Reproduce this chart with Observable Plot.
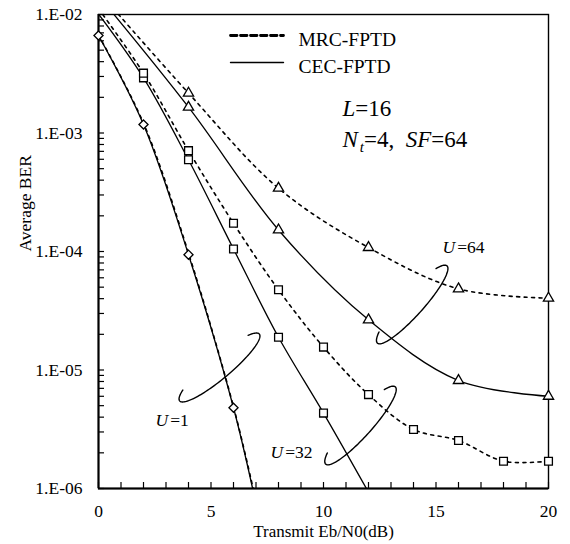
<!DOCTYPE html>
<html><head><meta charset="utf-8">
<script src="https://cdn.jsdelivr.net/npm/d3@7"></script>
<script src="https://cdn.jsdelivr.net/npm/@observablehq/plot@0.6"></script>
<style>
body{margin:0;background:#fff}
svg{font-family:"Liberation Serif","Times New Roman",serif}
</style>
</head><body><div id="chart"></div>
<script>
// ---------- data ----------
const snrU1 = [0, 2, 4, 6, 7];
const berU1CEC = [6.65e-3, 1.18e-3, 9.4e-5, 4.8e-6, 7.4e-7];
const berU1MRC = [6.7e-3, 1.21e-3, 9.7e-5, 4.9e-6, 7.8e-7];

const snrU32CEC = [0, 2, 4, 6, 8, 10, 12];
const berU32CEC = [1.01e-2, 2.92e-3, 5.94e-4, 1.05e-4, 1.89e-5, 4.33e-6, 9.3e-7];
const snrU32MRC = [0, 2, 4, 6, 8, 10, 12, 14, 16, 18, 20];
const berU32MRC = [1.12e-2, 3.2e-3, 7.1e-4, 1.73e-4, 4.75e-5, 1.56e-5, 6.2e-6, 3.15e-6, 2.54e-6, 1.7e-6, 1.7e-6];

const snrU64 = [0, 4, 8, 12, 16, 20];
const berU64CEC = [1.44e-2, 1.65e-3, 1.52e-4, 2.65e-5, 8.15e-6, 6.0e-6];
const berU64MRC = [1.56e-2, 2.17e-3, 3.42e-4, 1.08e-4, 4.84e-5, 4.04e-5];

const xTickValues = [0, 5, 10, 15, 20];
const xTickLabels = ["0", "5", "10", "15", "20"];
const yTickValues = [1e-6, 1e-5, 1e-4, 1e-3, 1e-2];
const yTickLabels = ["1.E-06", "1.E-05", "1.E-04", "1.E-03", "1.E-02"];
const legendNames = ["MRC-FPTD", "CEC-FPTD"];
const groupNames = ["1", "32", "64"];

// ---------- layout ----------
const W = 570, H = 544, mL = 98, mR = 22, mT = 14, mB = 56;
const pxPerDb = (W - mL - mR) / 20;
const pxPerDec = (H - mT - mB) / 4;
const X = px => (px - mL) / pxPerDb;
const Y = py => Math.pow(10, -2 - (py - mT) / pxPerDec);

function series(snr, ber, name) {
  return snr.map((s, i) => ({snr: s, ber: ber[i], name}));
}
const mrc = [
  ...series(snrU1, berU1MRC, "U1M"),
  ...series(snrU32MRC, berU32MRC, "U32M"),
  ...series(snrU64, berU64MRC, "U64M")
];
const cec = [
  ...series(snrU1, berU1CEC, "U1C"),
  ...series(snrU32CEC, berU32CEC, "U32C"),
  ...series(snrU64, berU64CEC, "U64C")
];
const inRange = d => d.ber > 1e-6 && d.ber < 1e-2;
const diamonds = series(snrU1, berU1CEC, "U1C").filter(inRange);
const squares = [...series(snrU32CEC, berU32CEC, "a"), ...series(snrU32MRC, berU32MRC, "b")].filter(inRange);
const triangles = [...series(snrU64, berU64CEC, "a"), ...series(snrU64, berU64MRC, "b")].filter(inRange);

// ellipse annotations (pixel geometry)
const ellC = [[219, 367], [360, 425], [411.7, 304]];
const ellAng = [40, 48, 48];
const EA = 52, EB = 11;
const ellPts = [];
ellC.forEach((c, k) => {
  const phi = ellAng[k] * Math.PI / 180;
  for (let t = 145; t <= 395; t += 2.5) {
    const tr = t * Math.PI / 180;
    const px = EA * Math.cos(tr) * Math.cos(phi) - EB * Math.sin(tr) * Math.sin(phi);
    const py = -EA * Math.cos(tr) * Math.sin(phi) - EB * Math.sin(tr) * Math.cos(phi);
    ellPts.push({x: X(c[0] + px), y: Y(c[1] + py), k});
  }
});
const uLabelPos = [[155, 420], [270, 452], [442, 247]];

const xMinor = d3.range(0, 21);
const yMinor = d3.scaleLog().domain([1e-6, 1e-2]).ticks();

const plot = Plot.plot({
  width: W, height: H,
  marginLeft: mL, marginRight: mR, marginTop: mT, marginBottom: mB,
  style: {fontFamily: "Liberation Serif, Times New Roman, serif", background: "white"},
  x: {domain: [0, 20], axis: null},
  y: {type: "log", domain: [1e-6, 1e-2], axis: null},
  marks: [
    Plot.frame({stroke: "black", strokeWidth: 1.4}),
    Plot.ruleX([0], {stroke: "black", strokeWidth: 2}),
    Plot.ruleY([1e-6], {stroke: "black", strokeWidth: 2}),
    Plot.ruleX(xMinor, {y1: 1e-6, y2: Y(H - mB - 6), stroke: "black", strokeWidth: 1.2}),
    Plot.ruleY(yMinor, {x1: 0, x2: X(mL + 6), stroke: "black", strokeWidth: 1.2}),
    Plot.text(xTickValues, {x: d => d, y: () => 1e-6, text: (d, i) => xTickLabels[i], dy: 23, fontSize: 17.5, fill: "black"}),
    Plot.text(yTickValues, {x: () => 0, y: d => d, text: (d, i) => yTickLabels[i], dx: -16, textAnchor: "end", fontSize: 17.5, fill: "black"}),
    Plot.text(["Average BER"], {frameAnchor: "left", rotate: -90, dx: -73, fontSize: 17.5, fill: "black"}),
    Plot.text(["Transmit Eb/N0(dB)"], {frameAnchor: "bottom", dy: 48, fontSize: 17, fill: "black"}),
    // curves
    Plot.line(cec, {x: "snr", y: "ber", z: "name", curve: "catmull-rom", stroke: "black", strokeWidth: 1.3, clip: true}),
    Plot.line(mrc, {x: "snr", y: "ber", z: "name", curve: "catmull-rom", stroke: "black", strokeWidth: 1.6, strokeDasharray: "3,4.5", clip: true}),
    // markers
    Plot.dot(diamonds, {x: "snr", y: "ber", symbol: "diamond2", r: 4.1, fill: "white", stroke: "black", strokeWidth: 1.3}),
    Plot.dot(squares, {x: "snr", y: "ber", symbol: "square", r: 4.4, fill: "white", stroke: "black", strokeWidth: 1.3}),
    Plot.dot(triangles, {x: "snr", y: "ber", symbol: "triangle", r: 3.8, fill: "white", stroke: "black", strokeWidth: 1.3}),
    // ellipses
    Plot.line(ellPts, {x: "x", y: "y", z: "k", curve: "linear", stroke: "black", strokeWidth: 1.4}),
    Plot.text(groupNames, {x: (d, i) => X(uLabelPos[i][0]), y: (d, i) => Y(uLabelPos[i][1]), text: d => "U =" + d, textAnchor: "start", fontSize: 17.5, fill: "black"}),
    // legend
    Plot.line([{x: X(230), y: Y(35)}, {x: X(283), y: Y(35)}], {x: "x", y: "y", stroke: "black", strokeWidth: 2.8, strokeDasharray: "6.5,3.5"}),
    Plot.line([{x: X(230), y: Y(62)}, {x: X(283), y: Y(62)}], {x: "x", y: "y", stroke: "black", strokeWidth: 1.4}),
    Plot.text(legendNames, {x: () => X(298), y: (d, i) => Y(i === 0 ? 39.5 : 66), text: d => d, textAnchor: "start", fontSize: 19.5, fill: "black"}),
    // parameters
    Plot.text(["L=16"], {x: () => X(342), y: () => Y(108), textAnchor: "start", fontSize: 23, fill: "black"}),
    Plot.text(["Nt=4,  SF=64"], {x: () => X(342), y: () => Y(139), textAnchor: "start", fontSize: 23, fill: "black"})
  ]
});

// italic / subscript formatting
d3.select(plot).selectAll("text").each(function() {
  const el = d3.select(this);
  const s = this.textContent;
  let m;
  if ((m = s.match(/^U =(\d+)$/))) {
    el.text("");
    el.append("tspan").attr("font-style", "italic").text("U");
    el.append("tspan").attr("dx", 2).text("=" + m[1]);
  } else if (s === "L=16") {
    el.text("");
    el.append("tspan").attr("font-style", "italic").text("L");
    el.append("tspan").text("=16");
  } else if (s === "Nt=4,  SF=64") {
    el.text("");
    el.style("white-space", "pre");
    el.append("tspan").attr("font-style", "italic").text("N");
    el.append("tspan").attr("font-style", "italic").attr("font-size", 15).attr("dx", 2).attr("dy", 5).text("t");
    el.append("tspan").attr("dy", -5).text("=4,\u00a0\u00a0");
    el.append("tspan").attr("font-style", "italic").text("SF");
    el.append("tspan").text("=64");
  }
});
document.getElementById("chart").appendChild(plot);
</script>
</body></html>
